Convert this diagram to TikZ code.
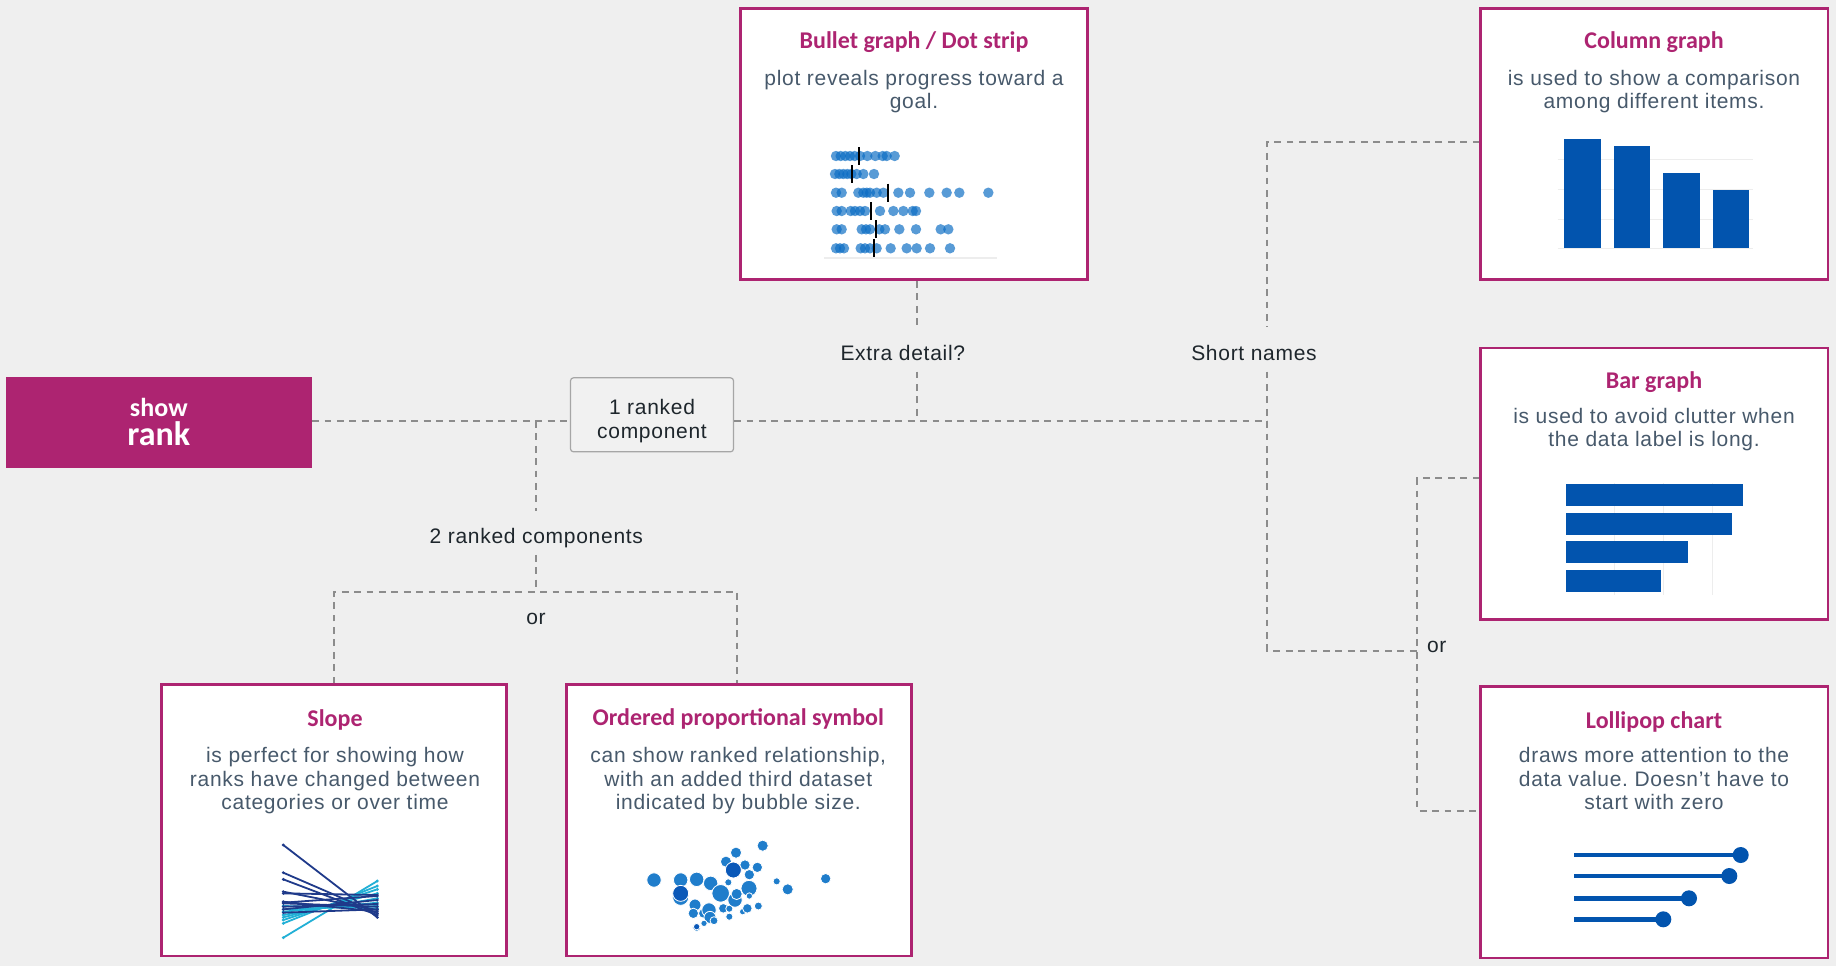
\documentclass[tikz,border=0pt]{standalone}
\usepackage{fontspec}
\setmainfont{Liberation Sans}
\newfontfamily\bodyfont[LetterSpace=3.4]{Liberation Sans}
\newfontfamily\headfont{Carlito}
\frenchspacing
\definecolor{pagegray}{HTML}{EFEFEF}
\definecolor{rankpink}{HTML}{AD2471}
\definecolor{bodygray}{HTML}{47596B}
\definecolor{cueink}{HTML}{1E262C}
\definecolor{linkgray}{HTML}{8C8C8C}
\definecolor{boxgray}{HTML}{A6A6A6}
\definecolor{choicefill}{HTML}{F1F1F1}
\definecolor{dotblue}{HTML}{0A6CC4}
\definecolor{barblue}{HTML}{0254AE}
\definecolor{slopenavy}{HTML}{1F3A8A}
\definecolor{slopecyan}{HTML}{22B0D6}
\definecolor{bubbleblue}{HTML}{1F7DCB}
\definecolor{bubbledark}{HTML}{0A58B8}
\definecolor{gridfaint}{HTML}{EDEDED}

\begin{document}
\begin{tikzpicture}[x=0.5pt, y=-0.5pt,
  card/.style={draw=rankpink, line width=1.35pt, fill=white, inner sep=0pt,
    minimum width=173.6pt, minimum height=135.6pt},
  cardtitle/.style={font=\headfont\bfseries\fontsize{12}{14}\selectfont,
    text=rankpink, anchor=base, inner sep=0pt},
  cardtext/.style={font=\bodyfont\fontsize{10.5}{11.65}\selectfont,
    text=bodygray, align=center, anchor=base, inner sep=0pt},
  rootbox/.style={fill=rankpink, text=white, align=center, inner sep=0pt,
    minimum width=152.9pt, minimum height=45.5pt,
    font=\headfont\bfseries\fontsize{13}{14.35}\selectfont},
  choicebox/.style={draw=boxgray, fill=choicefill, line width=0.6pt,
    rounded corners=1.5pt, minimum width=81.5pt, minimum height=37pt},
  choicetext/.style={font=\bodyfont\fontsize{10.5}{12}\selectfont,
    text=cueink, align=center, anchor=base, inner sep=0pt},
  cue/.style={font=\bodyfont\fontsize{10.5}{12}\selectfont, text=cueink,
    inner sep=0pt, text height=16.2pt, text depth=5.6pt, anchor=base},
  link/.style={draw=linkgray, line width=1pt, dash pattern=on 3.4pt off 2.8pt},
  stripdot/.style={fill=dotblue, fill opacity=0.68},
  bubble/.style={fill=bubbleblue, draw=white, line width=0.4pt}]

\fill[pagegray] (0,0) rectangle (1836,966);
\useasboundingbox (0,0) rectangle (1836,966);

% root and first choice
\node[rootbox] (root) at (158.8,422.2) {show\\{\fontsize{17}{14.35}\selectfont rank}};
\node[choicebox] (rankone) at (652,414.8) {};
\node[choicetext] at (652,438.3) {1 ranked\\component};

% chart cards
\node[card] (bullet) at (914.2,144) {};
\node[card] (column) at (1654.3,144) {};
\node[card] (bar) at (1654.3,483.7) {};
\node[card] (lollipop) at (1654.3,822.3) {};
\node[card, minimum width=172.6pt] (slope) at (334.2,820.3) {};
\node[card, minimum width=172.6pt] (ordered) at (739,820.3) {};

% titles
\node[cardtitle] at (914,48.3) {Bullet graph / Dot strip};
\node[cardtitle] at (1654,48.3) {Column graph};
\node[cardtitle] at (1654,388.3) {Bar graph};
\node[cardtitle] at (1654,728.3) {Lollipop chart};
\node[cardtitle] at (335,726.7) {Slope};
\node[cardtitle] at (738.3,725) {Ordered proportional symbol};

% descriptions (base = last line)
\node[cardtext] at (914,108.3) {plot reveals progress toward a\\goal.};
\node[cardtext] at (1654,108.3) {is used to show a comparison\\among different items.};
\node[cardtext] at (1654,446.7) {is used to avoid clutter when\\the data label is long.};
\node[cardtext] at (1654,809.3) {draws more attention to the\\data value. Doesn’t have to\\start with zero};
\node[cardtext] at (335,809.3) {is perfect for showing how\\ranks have changed between\\categories or over time};
\node[cardtext] at (738.3,809.3) {can show ranked relationship,\\with an added third dataset\\indicated by bubble size.};

% cue labels
\node[cue] (twocue) at (536.3,543.3) {2 ranked components};
\node[cue] (extracue) at (902.8,360) {Extra detail?};
\node[cue] (shortcue) at (1254,360) {Short names};
\node[cue, text height=, text depth=] at (536,624.3) {or};
\node[cue, text height=, text depth=] at (1436.7,652.7) {or};

% junctions
\coordinate (jTwo) at (536.3,421);
\coordinate (jExtra) at (916.7,421);
\coordinate (jShort) at (1267.3,421);
\coordinate (jSplit) at (536.3,591.7);
\coordinate (jSlope) at (334.2,591.7);
\coordinate (jOrd) at (737.3,591.7);
\coordinate (jCol) at (1267.3,141.7);
\coordinate (jLow) at (1267.3,650.7);
\coordinate (jOr) at (1417.3,650.7);
\coordinate (jBar) at (1417.3,478.3);
\coordinate (jLol) at (1417.3,810.5);

% connectors
\draw[link] (root.east |- jTwo) -- (rankone.west |- jTwo);
\draw[link] (rankone.east |- jTwo) -- (jShort);
\draw[link] (jTwo) -- (twocue);
\draw[link] (twocue) -- (jSplit);
\draw[link] (jSlope |- slope.north) -- (jSlope) -- (jOrd) -- (jOrd |- ordered.north);
\draw[link] (jExtra |- bullet.south) -- (jExtra |- extracue.north);
\draw[link] (jExtra |- extracue.south) -- (jExtra);
\draw[link] (column.west |- jCol) -- (jCol) -- (jCol |- shortcue.north);
\draw[link] (jCol |- shortcue.south) -- (jLow) -- (jOr);
\draw[link] (bar.west |- jBar) -- (jBar) -- (jLol) -- (lollipop.west |- jLol);

% dot strip
\draw[gridfaint, line width=0.6pt] (824,258) -- (997,258);
\foreach \row/\mk/\xs in {156/859.3/{318,332,346,360,374,390,412,436,458,470,494},
    174/852/{315,328,340,352,364,380,400,432},
    192.7/887.7/{318,335,385,400,410,420,440,460,505,540,598,650,688,775},
    211/870.7/{320,335,362,375,390,405,450,490,520,548,558},
    229.3/875.7/{320,335,395,408,420,448,465,508,558,632,655},
    248.3/874.3/{318,330,342,392,405,420,440,482,530,560,600,660}} {
  \foreach \z in \xs {
    \fill[stripdot] ({730+\z/3},\row) circle (5.2);
  }
  \draw[black, line width=1pt] (\mk,{\row-9}) -- (\mk,{\row+9});
}

% column graph
\foreach \g in {159,189,219} {
  \draw[gridfaint, line width=0.4pt] (1557.7,\g) -- (1753.3,\g);
}
\draw[gridfaint, line width=0.6pt] (1557.7,248.6) -- (1753.3,248.6);
\foreach \l/\t in {1564.3/139, 1613.7/146.3, 1663.3/173.3, 1712.7/190} {
  \fill[barblue] (\l,248.3) rectangle ({\l+36.7},\t);
}

% bar graph
\foreach \g in {1614.3,1663.3,1712.7} {
  \draw[gridfaint, line width=0.4pt] (\g,483) -- (\g,595);
}
\foreach \t/\r in {484.3/1742.7, 513/1731.7, 541.3/1688.3, 570/1660.7} {
  \fill[barblue] (1566,\t) rectangle (\r,{\t+21.5});
}

% lollipop chart
\foreach \y/\e in {855/1740.7, 876/1729.3, 898.3/1689, 919.3/1663.3} {
  \draw[barblue, line width=2.35pt] (1574.3,\y) -- (\e,\y);
  \fill[barblue] (\e,\y) circle (8);
}

% slope chart
\foreach \a/\b in {773/603, 730/618, 720/628, 712/640, 705/655, 695/668, 688/678, 678/685} {
  \draw[slopecyan, line width=0.9pt] (283.3,{680+\a/3}) -- (377.3,{680+\b/3});
  \fill[slopecyan] (283.3,{680+\a/3}) circle (1.6) (377.3,{680+\b/3}) circle (1.6);
}
\foreach \a/\b in {495/712, 578/700, 598/705, 635/690, 640/645, 665/695, 670/680, 680/672, 688/660, 698/688, 668/648} {
  \draw[slopenavy, line width=0.9pt] (283.3,{680+\a/3}) -- (377.3,{680+\b/3});
  \fill[slopenavy] (283.3,{680+\a/3}) circle (1.6) (377.3,{680+\b/3}) circle (1.6);
}

% proportional symbols
\foreach \zx/\zy/\zr in {282/600/18, 362/600/18, 410/598/18, 452/610/18, 362/652/20,
    405/675/15, 400/700/13, 430/700/12, 447/690/18, 450/712/15, 462/722/10,
    410/742/10, 432/730/8, 482/640/22, 490/685/12, 508/686/9, 508/710/9,
    525/660/18, 530/642/14, 548/695/8, 562/685/12, 567/625/20, 568/648/8,
    595/678/10, 505/607/9, 498/545/14, 528/518/14, 555/555/13, 568/584/13,
    592/562/13, 608/497/14, 650/604/9, 683/628/14, 797/596/13} {
  \filldraw[bubble] ({560+\zx/3},{680+\zy/3}) circle ({\zr/2.5});
}
\foreach \zx/\zy/\zr in {362/640/20, 520/570/20, 410/740/8} {
  \filldraw[bubble, fill=bubbledark] ({560+\zx/3},{680+\zy/3}) circle ({\zr/2.5});
}

\end{tikzpicture}
\end{document}
